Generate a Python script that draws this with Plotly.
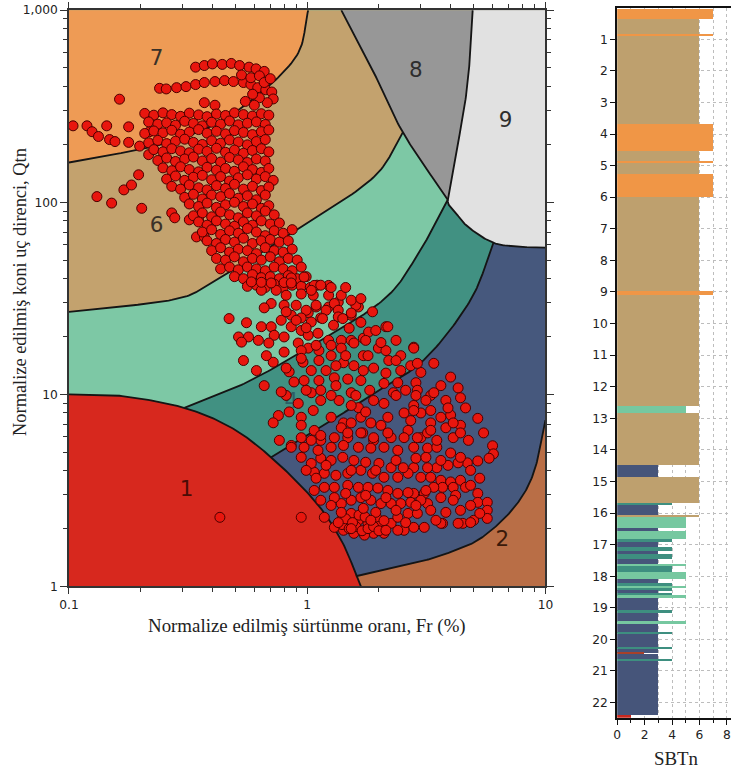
import numpy as np
import plotly.graph_objects as go

# ---------------- CPT points: normalized friction ratio Fr (%) and Qtn ----------------
fr_values = [
    # upper tip
    0.34, 0.37, 0.40, 0.44, 0.48, 0.52, 0.57, 0.61, 0.66,
    0.24, 0.256, 0.283, 0.31, 0.34, 0.37, 0.41, 0.45, 0.49, 0.54, 0.58, 0.62, 0.67, 0.71,
    0.72, 0.68, 0.63, 0.59, 0.53, 0.58, 0.63, 0.66, 0.70, 0.37, 0.41, 0.55, 0.60, 0.163,
    # scattered left points
    0.104, 0.119, 0.125, 0.133, 0.144, 0.148, 0.156, 0.178, 0.178, 0.198, 0.218, 0.216,
    0.131, 0.151, 0.170, 0.183, 0.196, 0.202, 0.270, 0.278, 0.32, 0.35, 0.343, 0.37,
    # dense upper cluster
    0.208, 0.227, 0.248, 0.27, 0.294, 0.32, 0.35, 0.38, 0.416, 0.454, 0.495, 0.54, 0.589, 0.642, 0.69,
    0.216, 0.236, 0.257, 0.28, 0.306, 0.333, 0.363, 0.397, 0.433, 0.472, 0.514, 0.561, 0.612, 0.667,
    0.208, 0.227, 0.248, 0.27, 0.294, 0.32, 0.35, 0.38, 0.416, 0.454, 0.495, 0.54, 0.589, 0.642, 0.69,
    0.216, 0.236, 0.257, 0.28, 0.306, 0.333, 0.363, 0.397, 0.433, 0.472, 0.514, 0.561, 0.612, 0.667,
    0.227, 0.248, 0.27, 0.294, 0.32, 0.35, 0.38, 0.416, 0.454, 0.495, 0.54, 0.589, 0.642, 0.69,
    0.236, 0.257, 0.28, 0.306, 0.333, 0.363, 0.397, 0.433, 0.472, 0.514, 0.561, 0.612, 0.667,
    0.248, 0.27, 0.294, 0.32, 0.35, 0.38, 0.416, 0.454, 0.495, 0.54, 0.589, 0.642, 0.69,
    0.257, 0.28, 0.306, 0.333, 0.363, 0.397, 0.433, 0.472, 0.514, 0.561, 0.612, 0.667, 0.72,
    0.27, 0.294, 0.32, 0.35, 0.38, 0.416, 0.454, 0.495, 0.54, 0.589, 0.642, 0.69,
    0.306, 0.333, 0.363, 0.397, 0.433, 0.472, 0.514, 0.561, 0.612, 0.667,
    0.32, 0.35, 0.38, 0.416, 0.454, 0.495, 0.54, 0.589, 0.642, 0.69,
    0.333, 0.363, 0.397, 0.433, 0.472, 0.514, 0.561, 0.612, 0.667, 0.727,
    0.35, 0.38, 0.416, 0.454, 0.495, 0.54, 0.589, 0.642, 0.70, 0.764,
    0.363, 0.397, 0.433, 0.472, 0.514, 0.561, 0.612, 0.667, 0.727, 0.793, 0.865,
    0.38, 0.416, 0.454, 0.495, 0.54, 0.589, 0.642, 0.70, 0.764, 0.833,
    0.397, 0.433, 0.472, 0.514, 0.561, 0.612, 0.667, 0.727, 0.793, 0.865,
    0.416, 0.454, 0.495, 0.54, 0.589, 0.642, 0.70, 0.764, 0.833, 0.908,
    0.433, 0.472, 0.514, 0.561, 0.612, 0.667, 0.727, 0.793, 0.865, 0.944,
    0.495, 0.54, 0.589, 0.642, 0.70, 0.764, 0.833, 0.908, 0.99,
    0.561, 0.612, 0.667, 0.727, 0.793, 0.865, 0.944, 1.03, 1.10,
    0.97, 1.07, 1.23, 0.857, 1.09, 1.23, 1.01, 1.35, 1.64, 1.53, 0.47,
    # middle band
    0.706, 0.80, 0.899, 0.944, 1.06, 1.23, 1.30, 1.35, 1.35, 1.60, 1.53, 0.66,
    0.556, 0.642, 0.706, 0.515, 0.567, 0.624, 0.727, 0.80, 0.857, 0.944, 1.01, 1.11,
    1.23, 1.39, 1.53, 1.29, 1.50, 1.72, 1.81, 2.14, 0.69, 0.80, 0.917, 1.01,
    1.12, 1.26, 1.39, 1.57, 1.72, 1.99, 2.14, 2.20, 2.80, 0.54, 0.72, 0.84,
    0.96, 1.12, 1.26, 1.42, 1.57, 1.72, 1.90, 2.14, 2.47, 0.66, 0.97, 1.12,
    1.30, 1.48, 1.68, 1.83, 2.10, 2.40, 2.86, 2.90, 0.917, 1.04, 1.14, 1.36,
    1.64, 1.90, 2.10, 2.30, 2.80, 0.757, 0.72, 0.944, 1.06, 1.26, 1.42, 1.68,
    1.85, 2.18, 2.55, 3.00, 0.764, 0.857, 1.07, 1.14, 1.39, 1.48, 1.71, 1.90,
    2.25, 2.65, 3.00,
    0.99, 1.09, 1.14, 1.04, 1.20, 0.944, 0.857, 0.778, 0.944, 1.45, 1.32, 1.20,
    1.04, 1.53, 1.26, 0.816, 0.642, 0.741, 0.816, 1.04, 1.14, 1.26, 1.39, 1.53,
    1.68, 1.45,
    0.816, 0.899, 0.99, 1.16, 1.41, 1.68, 1.88, 1.76, 1.94, 2.36, 2.47, 2.72,
    2.36, 3.00, 3.64, 3.82, 4.00, 4.40, 4.75, 2.36, 2.59, 1.60, 1.32, 1.14,
    0.99, 0.88, 0.816, 0.944, 1.09, 0.674, 0.612, 0.778, 0.84, 0.944, 1.04, 1.53,
    2.04, 2.72, 3.30, 3.82, 1.53, 1.76, 3.30, 2.86,
    0.583, 0.642, 0.706, 0.80, 0.857, 0.53,
    # lower cloud
    2.18, 2.80, 3.40, 4.00, 4.30, 4.40, 4.62, 5.20, 5.50, 6.00, 6.05, 5.80,
    5.20, 4.70, 4.30, 3.90, 3.50, 3.20, 2.80, 3.00, 3.30, 3.64, 4.00, 4.40,
    4.62, 4.10, 3.70, 3.40, 3.10, 2.80, 5.20, 5.20, 5.70, 5.70, 5.70, 5.00,
    4.50, 3.70, 3.10, 2.80, 2.55, 2.40, 2.10, 1.90, 1.74, 1.57, 1.42, 1.30,
    1.18, 0.944, 0.43, 1.41, 1.53, 1.64, 1.80, 2.04, 2.25, 2.40, 2.65, 2.90,
    3.20, 3.00, 2.72, 2.47, 2.25, 2.04, 1.85, 1.68, 1.53, 1.39, 1.30, 1.07,
    1.18, 1.30, 1.48, 1.64, 1.80, 1.98, 2.18, 2.40, 2.65, 1.07, 1.18, 1.32,
    1.48, 1.68, 1.88, 2.10, 2.40, 2.65, 1.14, 1.26, 1.41, 1.57, 1.76, 2.00,
    2.25, 2.53, 0.944, 1.04, 0.857, 0.97, 1.11, 1.26, 1.42, 1.64, 1.85, 2.10,
    2.40, 2.80, 3.20, 3.50, 4.00, 4.40, 0.944, 1.14, 1.30, 1.48, 1.68, 1.90,
    2.18, 2.55, 2.90, 3.20, 3.50, 4.10, 3.64, 4.30, 4.85, 5.30,
    1.40, 1.50, 1.60, 1.70, 1.80, 1.90, 2.00, 1.45, 1.55, 1.65, 1.75, 1.95, 2.10,
    2.04, 1.80, 2.90, 3.15, 2.80, 3.30, 3.40, 3.64, 3.90, 4.10, 3.30, 4.40,
    0.99, 1.20, 1.53, 1.94, 2.36, 2.86, 3.15, 3.64, 4.85, 5.30, 4.85, 4.20,
    3.64, 3.30, 3.82, 4.40, 4.85, 4.10, 3.47, 2.59, 1.94, 1.72, 1.39, 1.26,
    1.14, 1.09, 1.45, 1.76, 2.14, 2.36, 2.86, 3.15, 1.85, 2.14, 1.53, 1.35,
]

qtn_values = [
    505, 515, 525, 522, 528, 515, 505, 495, 480,
    392, 389, 395, 400, 410, 420, 425, 430, 425, 420, 410, 395, 385, 375,
    345, 330, 350, 365, 460, 445, 455, 420, 440, 330, 320, 335, 320, 344,
    250, 250, 233, 220, 250, 212, 207, 247, 205, 196, 233, 177,
    107, 99, 116, 123, 139, 93, 88, 83, 81, 81, 66, 66,
    290, 284, 292, 286, 280, 291, 285, 279, 288, 283, 292, 286, 281, 289, 284,
    262, 255, 259, 252, 264, 257, 250, 261, 255, 265, 253, 258, 262, 254,
    228, 235, 230, 237, 226, 232, 239, 229, 234, 227, 236, 231, 225, 233, 238,
    204, 210, 202, 208, 213, 205, 200, 209, 203, 211, 206, 199, 207, 212,
    188, 183, 190, 185, 181, 189, 184, 191, 182, 187, 180, 186, 190, 183,
    165, 170, 163, 168, 172, 164, 169, 162, 171, 166, 161, 168, 164,
    151, 146, 153, 148, 144, 152, 147, 150, 145, 153, 148, 143, 150,
    132, 137, 130, 135, 138, 131, 136, 129, 134, 139, 132, 136, 130,
    121, 117, 123, 119, 116, 122, 118, 124, 117, 121, 115, 120,
    106, 110, 104, 109, 107, 111, 105, 108, 103, 109,
    98, 95, 99, 94, 97, 100, 95, 98, 93, 96,
    85, 88, 84, 89, 86, 83, 88, 85, 90, 86,
    79, 76, 80, 77, 75, 79, 76, 80, 77, 78,
    70, 72, 68, 71, 69, 73, 70, 67, 71, 69, 72,
    63, 61, 64, 62, 65, 61, 63, 64, 62, 63,
    56, 58, 55, 57, 56, 54, 58, 56, 55, 57,
    51, 50, 52, 49, 51, 50, 52, 49, 51, 50,
    45, 46, 44.5, 46, 45, 44, 46, 45, 44, 46,
    41, 40, 42, 40.5, 41, 40, 41.5, 40, 41,
    36.5, 37, 36, 37.5, 36, 37, 36.5, 36, 37,
    40.8, 36.9, 36.9, 40.4, 28.5, 28.5, 26.6, 30.2, 28.5, 25.8, 24.8,
    29.7, 29.1, 29.1, 33.3, 32.8, 32.8, 29.7, 27.4, 25.3, 29.1, 26.5, 28.2,
    23.6, 22.5, 22.5, 19.9, 19.9, 19.1, 20.3, 19.9, 22.5, 21.5, 20.3, 20.8,
    19.1, 19.1, 19.1, 22.9, 22.1, 19.6, 21.1, 22.5, 18.5, 16.6, 18.5, 17.4,
    16.9, 18.0, 17.4, 18.5, 15.9, 17.4, 16.9, 15.0, 17.6, 15.0, 14.7, 13.1,
    14.7, 15.0, 15.9, 14.6, 14.1, 13.3, 13.7, 12.9, 13.3, 11.1, 11.8, 11.8,
    12.2, 12.0, 11.8, 10.5, 11.4, 11.5, 11.5, 10.5, 8.97, 10.2, 10.5, 9.29,
    8.53, 9.29, 8.97, 10.2, 8.75, 7.76, 7.11, 7.6, 8.24, 7.6, 7.1, 7.6,
    7.1, 7.6, 8.0, 8.0, 5.76, 5.42, 6.49, 5.76, 6.7, 5.95, 6.3, 5.76,
    5.95, 6.49, 5.95,
    27.4, 29.1, 25.0, 23.8, 27.4, 25.0, 25.8, 24.3, 16.9, 15.9, 14.1, 13.3,
    13.3, 10.2, 9.87, 9.87, 34.8, 34.8, 32.8, 34.8, 37.0, 36.0, 32.8, 30.9,
    31.5, 36.0,
    26.9, 24.3, 22.2, 24.8, 24.8, 23.7, 26.9, 19.1, 21.5, 19.1, 15.9, 14.1,
    15.0, 13.0, 11.1, 9.3, 7.8, 6.9, 5.76, 9.87, 10.5, 9.87, 11.1, 9.29,
    10.5, 11.6, 13.7, 15.4, 18.0, 15.9, 13.3, 10.3, 8.1, 6.9, 5.76, 7.1,
    6.9, 7.3, 7.1, 6.7, 8.75, 8.1, 9.87, 9.87,
    38.5, 38.3, 38.0, 38.2, 38.0, 18.7,
    22.5, 17.4, 14.5, 12.3, 10.8, 9.6, 8.5, 7.5, 6.3, 5.4, 4.9, 4.65,
    4.5, 4.4, 4.4, 4.27, 4.15, 4.15, 4.15, 3.7, 3.7, 3.57, 3.5, 3.57,
    3.28, 3.28, 3.28, 3.28, 3.05, 3.05, 3.05, 2.74, 2.74, 2.49, 2.26, 2.21,
    2.13, 2.13, 2.03, 2.03, 1.96, 1.96, 1.89, 1.89, 1.85, 1.89, 1.96, 2.03,
    2.29, 2.29, 2.29, 2.29, 2.4, 2.21, 2.13, 2.13, 2.13, 2.29, 2.4, 2.4,
    2.7, 2.81, 2.74, 2.7, 2.7, 2.7, 2.81, 2.9, 2.81, 2.7, 2.9, 3.16,
    3.28, 3.28, 3.36, 3.28, 3.28, 3.25, 3.16, 3.05, 3.08, 3.93, 3.88, 3.79,
    3.88, 4.02, 3.88, 3.7, 3.7, 3.88, 4.65, 4.53, 4.7, 4.53, 4.43, 4.37,
    4.15, 4.15, 4.7, 4.37, 5.3, 5.3, 5.11, 5.3, 5.42, 5.3, 5.25, 5.3,
    5.11, 5.3, 5.25, 5.3, 4.95, 4.7, 5.95, 6.11, 5.95, 6.3, 6.3, 5.95,
    6.3, 5.95, 5.95, 6.3, 5.76, 5.95, 2.13, 2.13, 2.15, 2.4,
    2.1, 2.0, 2.05, 1.95, 2.0, 2.05, 1.95, 2.25, 2.15, 2.35, 2.3, 2.3, 2.2,
    18.6, 15.9, 14.5, 9.3, 8.24, 8.24, 10.2, 7.6, 8.5, 7.1, 6.5, 6.3,
    4.02, 4.27, 4.02, 4.02, 4.53, 4.65, 4.7, 4.53, 4.02, 3.66, 3.36, 2.98,
    2.9, 2.49, 2.43, 2.49, 2.64, 2.81, 2.21, 2.15, 2.43, 2.55, 2.43, 2.64,
    2.81, 3.66, 3.05, 2.98, 2.9, 2.49, 2.64, 3.16, 2.21, 1.96, 2.0, 2.15,
]

# ---------------- zone boundaries (Fr %, Qtn) ----------------
b1_fr, b1_q = [0.10, 0.167, 0.305, 0.481, 0.706, 1.07, 1.39, 1.68], [10.0, 9.8, 8.5, 6.7, 4.7, 2.81, 1.74, 1.0]
b32_fr, b32_q = [1.60, 2.04, 2.81, 3.89, 5.35, 7.34, 8.91, 10.0], [1.13, 1.21, 1.32, 1.49, 1.78, 2.55, 3.88, 7.34]
b43_fr, b43_q = [0.706, 1.145, 1.85, 3.09, 4.85, 6.05], [4.7, 6.75, 9.92, 15.1, 31.0, 61.5]
b54_fr, b54_q = [0.305, 0.53, 0.944, 2.04, 2.86, 3.89], [8.5, 11.2, 16.6, 30.3, 51.4, 103]
b65_fr, b65_q = [0.10, 0.270, 0.397, 0.778, 1.85, 2.52], [26.9, 31.0, 38.0, 63.8, 131, 231]
b76_fr, b76_q = [0.10, 0.262, 0.495, 0.883, 1.01], [161, 205, 293, 555, 1000]
b8_fr, b8_q = [1.39, 1.85, 2.52, 3.89], [1000, 510, 231, 103]
b9_fr, b9_q = [4.95, 4.85, 4.62, 4.12, 3.89, 4.12, 4.72, 6.05, 7.85, 10.0], [1000, 625, 343, 153, 103, 91.5, 74.6, 61.5, 58.7, 58]

zone_label_text = ['7', '6', '8', '9', '4', '1', '2']
zone_label_fr = [0.233, 0.233, 2.86, 6.8, 0.857, 0.312, 6.6]
zone_label_q = [555, 74.6, 480, 263, 9.0, 3.17, 1.74]

# ---------------- SBTn profile ----------------
depth_top = [0.04, 0.36, 0.82, 0.89, 3.67, 4.52, 4.86, 4.92, 5.26, 5.97, 8.96, 9.09, 12.60, 12.83,
             14.48, 14.86, 15.68, 15.75, 16.07, 16.13, 16.45, 16.55, 16.81, 16.92, 17.05, 17.18,
             17.29, 17.45, 17.61, 17.66, 17.87, 18.08, 18.19, 18.30, 18.35, 18.45, 18.51, 18.61,
             18.67, 19.09, 19.14, 19.43, 19.49, 19.78, 19.83, 20.25, 20.30, 20.41, 20.45, 20.62,
             20.66, 22.38]
depth_bottom = depth_top[1:] + [22.48]
sbtn = [7, 6, 7, 6, 7, 6, 7, 6, 7, 6, 7, 6, 5, 6,
        3, 6, 4, 3, 6, 5, 3, 5, 4, 3, 4, 3,
        4, 3, 5, 4, 5, 3, 4, 5, 4, 3, 4, 5,
        3, 4, 3, 5, 3, 4, 3, 4, 3, 2, 3, 4,
        3, 1]

zone_colors = {1: '#D7281E', 2: '#B96E46', 3: '#46587D', 4: '#419182', 5: '#7DC8A5',
               6: '#C3A26E', 7: '#EE9B55', 8: '#979797', 9: '#E1E1E1'}
bar_colors = {1: '#C8281E', 2: '#A8402A', 3: '#46557A', 4: '#3E8F80', 5: '#76C8A0',
              6: '#BEA06E', 7: '#F09646'}


def smooth(frs, qs, n=24):
    P = np.column_stack([np.log10(frs), np.log10(qs)])
    P = np.vstack([2 * P[0] - P[1], P, 2 * P[-1] - P[-2]])
    out = []
    t = np.linspace(0, 1, n, endpoint=False)[:, None]
    for i in range(1, len(P) - 2):
        p0, p1, p2, p3 = P[i - 1], P[i], P[i + 1], P[i + 2]
        c = 0.5 * ((2 * p1) + (-p0 + p2) * t + (2 * p0 - 5 * p1 + 4 * p2 - p3) * t ** 2
                   + (-p0 + 3 * p1 - 3 * p2 + p3) * t ** 3)
        out.append(c)
    out.append(P[-2][None, :])
    out = np.vstack(out)
    return list(10 ** out[:, 0]), list(10 ** out[:, 1])


LO_X, HI_X, LO_Y, HI_Y = 0.05, 20.0, 0.5, 2000.0

c1 = smooth(b1_fr, b1_q)
c32 = smooth(b32_fr, b32_q)
c43 = smooth(b43_fr, b43_q)
c54 = smooth(b54_fr, b54_q)
c65 = smooth(b65_fr, b65_q)
c76 = smooth(b76_fr, b76_q)
c8 = smooth(b8_fr, b8_q)
c9 = smooth(b9_fr, b9_q)

# Page keeps an 8 px body margin and the capture is rescaled to the window, so
# layout positions (given in window pixels) are mapped through this transform.
W, H = 739, 774
OFF = 8
SX, SY = (W + 2 * OFF) / W, (H + 2 * OFF) / H
K = (SX + SY) / 2


def fx(px):
    return (px * SX - OFF) / W


def fy(py):
    return 1 - (py * SY - OFF) / H


fig = go.Figure()


def poly(xs, ys, color):
    fig.add_trace(go.Scatter(x=xs, y=ys, mode='lines', fill='toself', fillcolor=color,
                             line=dict(width=0, color=color), hoverinfo='skip',
                             showlegend=False, xaxis='x', yaxis='y'))


poly([LO_X, HI_X, HI_X, LO_X], [LO_Y, LO_Y, HI_Y, HI_Y], zone_colors[2])
poly(c32[0] + [HI_X, LO_X, LO_X], c32[1] + [HI_Y, HI_Y, LO_Y], zone_colors[3])
poly(c43[0] + [HI_X, LO_X, LO_X], c43[1] + [HI_Y, HI_Y, LO_Y], zone_colors[4])
poly(c54[0] + [HI_X, LO_X, LO_X], c54[1] + [HI_Y, HI_Y, LO_Y], zone_colors[5])
poly(c65[0] + [HI_X, LO_X, LO_X], c65[1] + [HI_Y, HI_Y, c65[1][0]], zone_colors[6])
poly(c76[0] + [c76[0][-1], LO_X, LO_X], c76[1] + [HI_Y, HI_Y, c76[1][0]], zone_colors[7])
poly(c8[0] + [HI_X, HI_X, c8[0][0]], c8[1] + [50, HI_Y, HI_Y], zone_colors[8])
poly(c9[0] + [HI_X, HI_X, c9[0][0]], c9[1] + [c9[1][-1], HI_Y, HI_Y], zone_colors[9])
poly(c1[0] + [c1[0][-1], LO_X, LO_X], c1[1] + [LO_Y, LO_Y, c1[1][0]], zone_colors[1])

for cx, cy in [c1, c32, c43, c54, c65, c76, c8, c9]:
    fig.add_trace(go.Scatter(x=cx, y=cy, mode='lines', line=dict(color='#151515', width=1.8 * K),
                             hoverinfo='skip', showlegend=False, xaxis='x', yaxis='y'))

fig.add_trace(go.Scatter(
    x=zone_label_fr, y=zone_label_q, mode='text', text=zone_label_text,
    textfont=dict(family='DejaVu Sans', size=21 * K,
                  color=['#3a3128', '#3a3128', '#2e2e2e', '#2e2e2e', '#2c5f66', '#4a0c06', '#3a1a0a']),
    hoverinfo='skip', showlegend=False, xaxis='x', yaxis='y'))

fig.add_trace(go.Scatter(
    x=fr_values, y=qtn_values, mode='markers',
    marker=dict(size=9.8 * K, color='#E8160E', line=dict(color='#4a0000', width=1)),
    showlegend=False, xaxis='x', yaxis='y'))

# SBTn profile bars
mid = [(a + b) / 2 for a, b in zip(depth_top, depth_bottom)]
thick = [b - a for a, b in zip(depth_top, depth_bottom)]
fig.add_trace(go.Bar(
    x=sbtn, y=mid, width=thick, orientation='h',
    marker=dict(color=[bar_colors[s] for s in sbtn], line=dict(width=0)),
    showlegend=False, xaxis='x2', yaxis='y2'))

minor_x = [0.2, 0.3, 0.4, 0.5, 0.6, 0.7, 0.8, 0.9, 2, 3, 4, 5, 6, 7, 8, 9]
minor_y = [2, 3, 4, 5, 6, 7, 8, 9, 20, 30, 40, 50, 60, 70, 80, 90, 200, 300, 400, 500, 600, 700, 800, 900]
tick_font = dict(family='DejaVu Sans', size=12 * K, color='#222222')

# right panel: value 0 at window px 617, value 8 at window px 727
x2_left = fx(617)
x2_unit = (fx(727) - fx(617)) / 8
x2_max = (1.0 - x2_left) / x2_unit

fig.update_layout(
    width=W, height=H, margin=dict(l=0, r=0, t=0, b=0),
    paper_bgcolor='white', plot_bgcolor='white', showlegend=False, bargap=0,
    xaxis=dict(type='log', range=[-1, 1], domain=[fx(67), fx(545)], anchor='y',
               showgrid=False, zeroline=False, showline=True, linecolor='#333333', linewidth=1.5,
               mirror='ticks', ticks='outside', ticklen=6, tickcolor='#333333',
               tickvals=[0.1, 1, 10], ticktext=['0.1', '1', '10'], tickfont=tick_font,
               minor=dict(ticks='outside', ticklen=4, tickcolor='#333333', tickvals=minor_x, showgrid=False)),
    yaxis=dict(type='log', range=[0, 3], domain=[fy(586), fy(11)], anchor='x',
               showgrid=False, zeroline=False, showline=True, linecolor='#333333', linewidth=1.5,
               mirror='ticks', ticks='outside', ticklen=7, tickcolor='#333333',
               tickvals=[1, 10, 100, 1000], ticktext=['1', '10', '100', '1,000'], tickfont=tick_font,
               minor=dict(ticks='outside', ticklen=4, tickcolor='#333333', tickvals=minor_y, showgrid=False)),
    xaxis2=dict(range=[0, x2_max], domain=[x2_left, 1.0], anchor='y2',
                showgrid=True, gridcolor='#bdbdbd', griddash='dot', gridwidth=1, zeroline=False,
                showline=True, linecolor='#111111', linewidth=2, mirror=True,
                ticks='outside', ticklen=5, tickcolor='#111111', tickvals=[0, 2, 4, 6, 8],
                tickfont=tick_font,
                minor=dict(ticks='outside', ticklen=3, dtick=1, tickcolor='#111111', showgrid=True,
                           gridcolor='#bdbdbd', griddash='dot')),
    yaxis2=dict(range=[22.48, 0], domain=[fy(717), fy(8.5)], anchor='x2',
                showgrid=True, gridcolor='#bdbdbd', griddash='dot', gridwidth=1, zeroline=False,
                showline=True, linecolor='#111111', linewidth=2,
                ticks='outside', ticklen=5, tickcolor='#111111',
                tickvals=list(range(1, 23)), tickfont=tick_font),
    annotations=[
        dict(text='Normalize edilmiş koni uç direnci, Qtn', xref='paper', yref='paper',
             x=fx(18), y=fy(292), textangle=-90, showarrow=False,
             xanchor='center', yanchor='middle',
             font=dict(family='Liberation Serif', size=18 * K, color='#222222')),
        dict(text='Normalize edilmiş sürtünme oranı, Fr (%)', xref='paper', yref='paper',
             x=fx(306), y=fy(625), showarrow=False, xanchor='center', yanchor='middle',
             font=dict(family='Liberation Serif', size=18.5 * K, color='#222222')),
        dict(text='SBTn', xref='paper', yref='paper', x=fx(676), y=fy(758), showarrow=False,
             xanchor='center', yanchor='middle',
             font=dict(family='Liberation Serif', size=18.5 * K, color='#222222')),
    ],
)

fig.write_html('out.html')
